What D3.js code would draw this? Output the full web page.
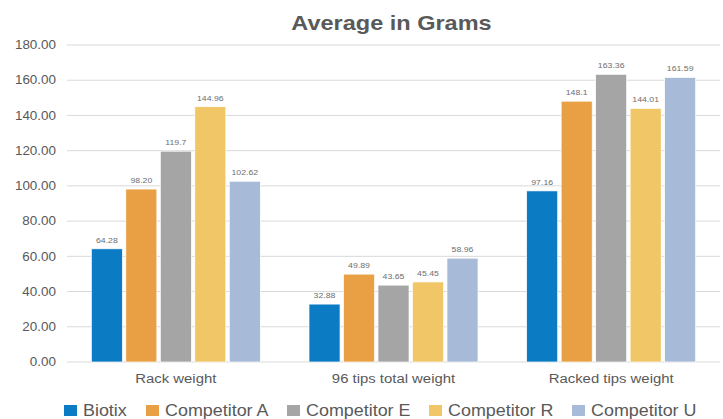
<!DOCTYPE html>
<html>
<head>
<meta charset="utf-8">
<script src="https://cdn.jsdelivr.net/npm/d3@7"></script>
<style>
  body { margin: 0; background: #fff; }
  text { font-family: Arial, "Liberation Sans", sans-serif; }
</style>
</head>
<body>
<svg id="chart" width="723" height="419"></svg>
<script>
var categories = ["Rack weight", "96 tips total weight", "Racked tips weight"];
var series = ["Biotix", "Competitor A", "Competitor E", "Competitor R", "Competitor U"];
var seriesColors = ["#0B7BC3", "#E99F43", "#A5A5A5", "#F1C667", "#A7BBD9"];
var biotix = [64.28, 32.88, 97.16];
var competitorA = [98.20, 49.89, 148.1];
var competitorE = [119.7, 43.65, 163.36];
var competitorR = [144.96, 45.45, 144.01];
var competitorU = [102.62, 58.96, 161.59];
// labels as printed on the original chart
var labelsBiotix = ["64.28", "32.88", "97.16"];
var labelsA = ["98.20", "49.89", "148.1"];
var labelsE = ["119.7", "43.65", "163.36"];
var labelsR = ["144.96", "45.45", "144.01"];
var labelsU = ["102.62", "58.96", "161.59"];
var yTicks = [0, 20, 40, 60, 80, 100, 120, 140, 160, 180];

var values = [biotix, competitorA, competitorE, competitorR, competitorU];
var labels = [labelsBiotix, labelsA, labelsE, labelsR, labelsU];

// the original text is a little stretched sideways
var stretch = 1.12;

var svg = d3.select("#chart");
var margin = {left: 67, right: 3, top: 45, bottom: 57};
var width = 723 - margin.left - margin.right;
var height = 419 - margin.top - margin.bottom;

var body = svg.append("g")
    .attr("transform", "translate(" + margin.left + "," + margin.top + ")");

function place(x, y){
    return "translate(" + x + "," + y + ") scale(" + stretch + ",1)";
}

var x0 = d3.scaleBand().domain(categories).range([0, width]).paddingInner(0).paddingOuter(0);
var x1 = d3.scaleBand().domain(series)
    .range([(x0.bandwidth() - 169) / 2, (x0.bandwidth() + 169) / 2])
    .paddingInner(0.1);
var y = d3.scaleLinear().domain([0, 180]).range([height, 0]);

// gridlines
body.selectAll(".grid")
    .data(yTicks)
    .enter().append("line")
    .attr("x1", 0).attr("x2", width)
    .attr("y1", d => y(d)).attr("y2", d => y(d))
    .attr("stroke", "#D9D9D9").attr("stroke-width", 1);

// y labels
body.selectAll(".ylab")
    .data(yTicks)
    .enter().append("text")
    .attr("transform", d => place(-11, y(d)))
    .attr("dy", "0.35em")
    .attr("text-anchor", "end")
    .attr("font-size", 12)
    .attr("fill", "#595959")
    .text(d => d3.format(".2f")(d));

// bars
var groups = body.selectAll(".cat")
    .data(categories)
    .enter().append("g")
    .attr("transform", d => "translate(" + x0(d) + ",0)");

groups.each(function(c, ci){
    var g = d3.select(this);
    series.forEach(function(s, si){
        var v = values[si][ci];
        g.append("rect")
            .attr("x", x1(s))
            .attr("y", y(v))
            .attr("width", x1.bandwidth())
            .attr("height", height - y(v))
            .attr("fill", seriesColors[si])
            .attr("stroke", "#fff")
            .attr("stroke-width", 0.7);
        g.append("text")
            .attr("transform", place(x1(s) + x1.bandwidth() / 2, y(v) - 6))
            .attr("text-anchor", "middle")
            .attr("font-size", 7.8)
            .attr("fill", "#6E6E6E")
            .text(labels[si][ci]);
    });
});

// category labels
body.selectAll(".xlab")
    .data(categories)
    .enter().append("text")
    .attr("transform", d => place(x0(d) + x0.bandwidth() / 2, height + 21))
    .attr("text-anchor", "middle")
    .attr("font-size", 13.3)
    .attr("fill", "#595959")
    .text(d => d);

// title
svg.append("text")
    .attr("transform", place(margin.left + width / 2 - 2, 30))
    .attr("text-anchor", "middle")
    .attr("font-size", 21)
    .attr("font-weight", "bold")
    .attr("fill", "#595959")
    .text("Average in Grams");

// legend
var legendX = [64, 146, 287, 429, 572];
var legend = svg.selectAll(".leg")
    .data(series)
    .enter().append("g")
    .attr("transform", (d, i) => "translate(" + legendX[i] + ",405)");
legend.append("rect")
    .attr("width", 13).attr("height", 11)
    .attr("fill", (d, i) => seriesColors[i]);
legend.append("text")
    .attr("transform", place(19, 5.5))
    .attr("dy", "0.36em")
    .attr("font-size", 16)
    .attr("fill", "#595959")
    .text(d => d);
</script>
</body>
</html>
